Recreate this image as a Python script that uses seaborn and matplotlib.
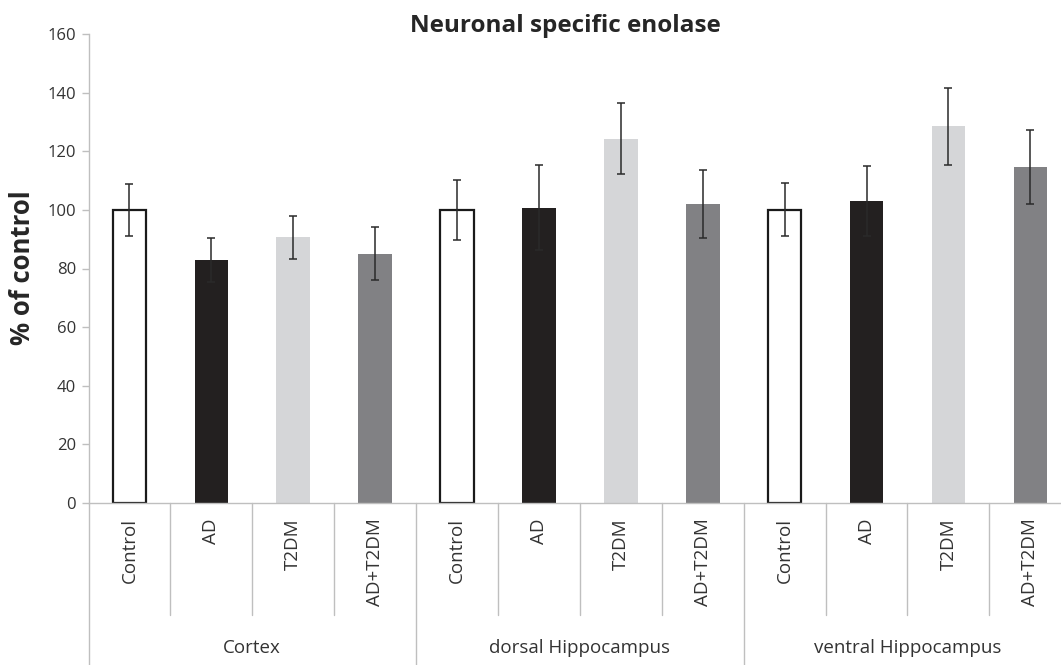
import matplotlib
matplotlib.use("Agg")
import matplotlib.pyplot as plt
import matplotlib.transforms as mtransforms
import numpy as np
import pandas as pd
import seaborn as sns

# Brain regions and treatment groups
regions = ["Cortex", "dorsal Hippocampus", "ventral Hippocampus"]
groups = ["Control", "AD", "T2DM", "AD+T2DM"]

# Neuronal specific enolase, % of control (mean and error)
cortex_mean = [100.0, 82.8, 90.6, 85.0]
cortex_err = [8.8, 7.5, 7.3, 9.0]
dorsal_mean = [100.0, 100.8, 124.3, 102.0]
dorsal_err = [10.2, 14.6, 12.0, 11.6]
ventral_mean = [100.0, 103.0, 128.5, 114.6]
ventral_err = [9.0, 12.0, 13.2, 12.7]

y_ticks = [0, 20, 40, 60, 80, 100, 120, 140, 160]

group_colors = {
    "Control": "#ffffff",
    "AD": "#231f20",
    "T2DM": "#d5d6d8",
    "AD+T2DM": "#808184",
}

means = cortex_mean + dorsal_mean + ventral_mean
errs = cortex_err + dorsal_err + ventral_err
df = pd.DataFrame({
    "region": np.repeat(regions, len(groups)),
    "group": groups * len(regions),
    "value": means,
    "err": errs,
})
df["bar"] = df["region"] + " | " + df["group"]

sns.set_theme(style="white")
plt.rcParams["font.family"] = ["Open Sans", "DejaVu Sans"]

fig = plt.figure(figsize=(10.61, 6.65), dpi=100)
ax = fig.add_axes([88.5 / 1061, 162 / 665, 982.8 / 1061, 469 / 665])

sns.barplot(
    data=df, x="bar", y="value", hue="group", order=list(df["bar"]),
    hue_order=groups, palette=group_colors, dodge=False, width=0.41,
    errorbar=None, legend=False, ax=ax,
)

for patch in ax.patches:
    fc = patch.get_facecolor()
    if fc[0] > 0.99 and fc[1] > 0.99 and fc[2] > 0.99:
        patch.set_edgecolor("#1a1a1a")
        patch.set_linewidth(1.6)
    else:
        patch.set_edgecolor("none")
        patch.set_linewidth(0)

ax.errorbar(
    x=np.arange(len(df)), y=df["value"], yerr=df["err"], fmt="none",
    ecolor="#2a2a2a", elinewidth=1.1, capsize=3.2, capthick=1.1, zorder=5,
)

ax.set_xlim(-0.5, len(df) - 0.5)
ax.set_ylim(0, 160)
ax.set_yticks(y_ticks)
ax.set_yticklabels([str(t) for t in y_ticks], fontsize=12, color="#333333")
ax.set_xticks(np.arange(len(df)))
ax.set_xticklabels(df["group"], rotation=90, fontsize=13.5, color="#333333")
ax.tick_params(axis="x", length=0, pad=11)
ax.tick_params(axis="y", length=5, width=1, color="#bfbfbf", left=True, pad=4)
ax.set_xlabel("")
ax.set_ylabel("")

for side in ["top", "right"]:
    ax.spines[side].set_visible(False)
for side in ["left", "bottom"]:
    ax.spines[side].set_color("#bfbfbf")
    ax.spines[side].set_linewidth(1.0)

# Category separators below the axis
trans = mtransforms.blended_transform_factory(ax.transData, ax.transAxes)
for i in range(len(df) + 1):
    xs = i - 0.5
    ybot = -0.36 if i % len(groups) == 0 else -0.239
    ax.plot([xs, xs], [0, ybot], transform=trans, clip_on=False,
            color="#bfbfbf", lw=1.0)

# Region labels
for k, reg in enumerate(regions):
    xc = k * len(groups) + (len(groups) - 1) / 2
    ax.text(xc, -0.309, reg, transform=trans, ha="center", va="center",
            fontsize=13.5, color="#333333",
            family=["Liberation Sans Narrow", "Open Sans", "DejaVu Sans"])

fig.text(23 / 1061, 1 - 268 / 665, "% of control", rotation=90,
         ha="center", va="center", fontsize=18.5, fontweight="bold",
         color="#262626")
fig.text(565 / 1061, 1 - 32 / 665, "Neuronal specific enolase",
         ha="center", va="baseline", fontsize=17.5, fontweight="bold",
         color="#262626")

fig.savefig("out.png", dpi=100, facecolor="white")
